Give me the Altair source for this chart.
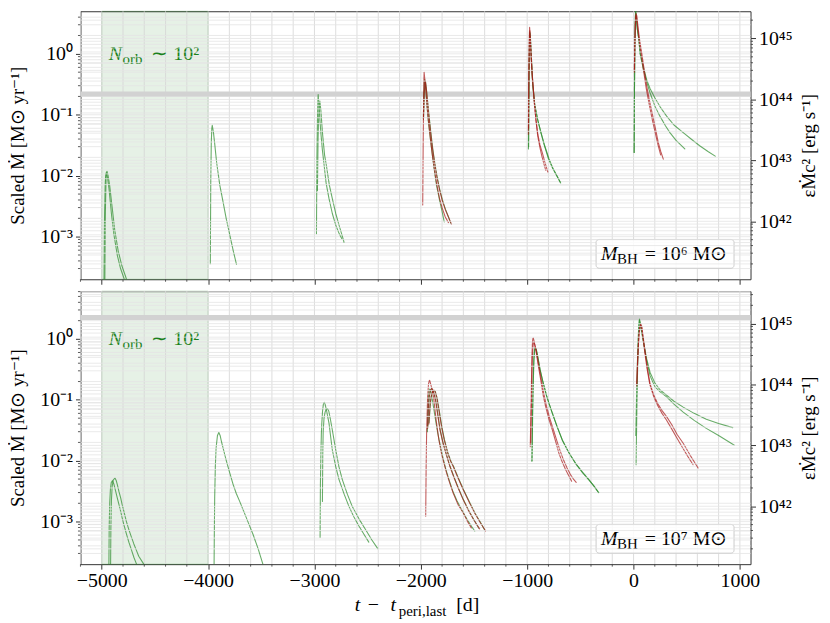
import altair as alt
import pandas as pd

# ---------------- constants ----------------
K = 5.6e44                      # eps * Mdot * c^2 per (Msun/yr)
XDOM = [-5200, 1100]
W = 675
H_TOP, H_BOT = 270, 275
YDOM_TOP = [2e-4, 5.0]
YDOM_BOT = [2e-4, 6.1]
EDD_TOP, EDD_BOT = 0.22, 2.25
SHADE = [-5000, -4000]

x_major = [-5000, -4000, -3000, -2000, -1000, 0, 1000]
x_grid = list(range(-5200, 1001, 200))
x_minor = [v for v in x_grid if v % 1000 != 0]
y_major = [1e-3, 1e-2, 1e-1, 1.0]
r_major = [1e42, 1e43, 1e44, 1e45]

# ---------------- M_BH = 1e6 (top) curves: t [d], Mdot [Msun/yr] ----------------
m6_a1_t = [-4980, -4975, -4968, -4962, -4958, -4948, -4932, -4907, -4885, -4854, -4823, -4792, -4770]
m6_a1_v = [1.0e-4, 1.5e-3, 7.0e-3, 0.0108, 0.0112, 0.0098, 0.0062, 0.0022, 1.07e-3, 5.0e-4, 3.0e-4, 2.1e-4, 1.5e-4]
m6_a2_t = [-4972, -4966, -4959, -4954, -4950, -4940, -4925, -4900, -4878, -4845, -4810, -4775, -4750]
m6_a2_v = [1.0e-4, 2.5e-3, 9.0e-3, 0.0115, 0.0118, 0.0100, 0.0068, 0.0028, 1.3e-3, 5.8e-4, 3.3e-4, 2.2e-4, 1.6e-4]
m6_b1_t = [-3979, -3975, -3970, -3965, -3961, -3950, -3939, -3920, -3890, -3859, -3830, -3796, -3765, -3733]
m6_b1_v = [3.6e-4, 8e-3, 0.035, 0.060, 0.067, 0.052, 0.035, 0.0166, 7.0e-3, 3.7e-3, 2.0e-3, 1.07e-3, 6.0e-4, 3.5e-4]
m6_c1_t = [-2981, -2977, -2972, -2968, -2965, -2958, -2950, -2940, -2925, -2909, -2890, -2863, -2832, -2800, -2770, -2744]
m6_c1_v = [1.12e-3, 0.02, 0.08, 0.17, 0.215, 0.15, 0.09, 0.051, 0.026, 0.0148, 7.5e-3, 4.2e-3, 2.4e-3, 1.55e-3, 1.15e-3, 9.3e-4]
m6_c2_t = [-2972, -2966, -2960, -2954, -2949, -2940, -2925, -2905, -2888, -2860, -2832, -2800, -2769, -2740, -2722]
m6_c2_v = [5.7e-3, 0.04, 0.10, 0.15, 0.168, 0.12, 0.051, 0.022, 0.0148, 7.0e-3, 4.2e-3, 2.4e-3, 1.55e-3, 1.05e-3, 8.1e-4]
m6_d_g1_t = [-1976, -1972, -1967, -1963, -1955, -1945, -1930, -1913, -1898, -1883, -1865, -1852, -1835, -1820, -1800, -1780]
m6_d_g1_v = [0.085, 0.2, 0.36, 0.38, 0.28, 0.16, 0.08, 0.045, 0.027, 0.0166, 0.0098, 6.9e-3, 5.0e-3, 3.7e-3, 2.6e-3, 1.75e-3]
m6_d_r1_t = [-1982, -1978, -1974, -1971, -1969, -1962, -1952, -1940, -1925, -1908, -1890, -1872, -1850, -1825, -1800, -1770, -1740]
m6_d_r1_v = [3.3e-3, 0.03, 0.15, 0.38, 0.50, 0.38, 0.24, 0.13, 0.07, 0.038, 0.021, 0.0125, 7.2e-3, 4.3e-3, 3.0e-3, 2.1e-3, 1.7e-3]
m6_d_r2_t = [-1975, -1968, -1961, -1957, -1950, -1940, -1925, -1908, -1890, -1870, -1850, -1825, -1800, -1770, -1740, -1712]
m6_d_r2_v = [0.085, 0.22, 0.33, 0.355, 0.29, 0.19, 0.10, 0.052, 0.028, 0.016, 9.8e-3, 6.0e-3, 4.0e-3, 2.8e-3, 2.1e-3, 1.6e-3]
m6_d_g2_t = [-1974, -1967, -1960, -1956, -1949, -1938, -1922, -1905, -1887, -1867, -1846, -1822, -1797, -1768, -1740, -1718]
m6_d_g2_v = [0.09, 0.23, 0.33, 0.35, 0.28, 0.18, 0.095, 0.05, 0.027, 0.0155, 9.5e-3, 5.9e-3, 4.0e-3, 2.8e-3, 2.1e-3, 1.65e-3]
m6_e_r1_t = [-989, -985, -981, -977, -972, -965, -955, -945, -932, -918, -900, -880, -858, -835, -806]
m6_e_r1_v = [0.048, 0.45, 1.7, 2.72, 1.9, 1.0, 0.5, 0.295, 0.15, 0.084, 0.048, 0.032, 0.024, 0.017, 0.0115]
m6_e_r2_t = [-987, -983, -979, -975, -969, -962, -952, -942, -930, -916, -900, -880, -862, -842, -825]
m6_e_r2_v = [0.06, 0.5, 1.6, 2.4, 1.7, 0.95, 0.45, 0.27, 0.14, 0.078, 0.044, 0.029, 0.021, 0.0155, 0.0122]
m6_e_g1_t = [-988, -984, -980, -976, -970, -962, -949, -930, -903, -870, -840, -800, -763, -725, -685]
m6_e_g1_v = [0.0275, 0.3, 1.2, 2.3, 1.8, 0.9, 0.32, 0.15, 0.085, 0.05, 0.032, 0.019, 0.0135, 0.0102, 7.6e-3]
m6_e_g2_t = [-986, -982, -978, -974, -968, -960, -947, -928, -900, -867, -835, -795, -758, -720, -690]
m6_e_g2_v = [0.03, 0.35, 1.3, 2.2, 1.7, 0.85, 0.31, 0.145, 0.082, 0.049, 0.031, 0.019, 0.0133, 0.0100, 7.9e-3]
m6_f_g1_t = [6, 9, 13, 16, 19, 25, 35, 47, 62, 93, 125, 155, 200, 248, 300, 342, 400, 482]
m6_f_g1_v = [0.024, 0.3, 1.5, 3.5, 5.3, 4.0, 2.6, 1.9, 1.0, 0.55, 0.34, 0.23, 0.14, 0.095, 0.066, 0.051, 0.038, 0.0275]
m6_f_g2_t = [6, 9, 13, 16, 20, 26, 36, 48, 64, 95, 125, 155, 200, 250, 311, 380, 467, 550, 622, 700, 768]
m6_f_g2_v = [0.024, 0.25, 1.3, 3.2, 5.0, 3.8, 2.5, 1.8, 1.0, 0.58, 0.37, 0.27, 0.19, 0.135, 0.095, 0.068, 0.051, 0.039, 0.031, 0.025, 0.021]
m6_f_r1_t = [8, 12, 17, 21, 24, 31, 40, 55, 77, 100, 124, 150, 187, 210, 233, 256, 280]
m6_f_r1_v = [0.55, 1.5, 3.0, 4.2, 4.6, 4.2, 3.0, 1.8, 1.03, 0.55, 0.295, 0.17, 0.085, 0.055, 0.035, 0.025, 0.0187]
m6_f_r2_t = [8, 12, 16, 20, 23, 30, 38, 52, 72, 95, 118, 145, 180, 205, 230, 255]
m6_f_r2_v = [0.5, 1.4, 2.8, 3.9, 4.3, 3.8, 2.8, 1.7, 0.98, 0.52, 0.28, 0.155, 0.078, 0.05, 0.032, 0.022]

# ---------------- M_BH = 1e7 (bottom) curves ----------------
m7_a1_t = [-4934, -4930, -4925, -4918, -4910, -4900, -4885, -4870, -4854, -4838, -4822, -4808, -4792, -4768, -4745, -4720, -4698, -4673, -4660]
m7_a1_v = [1.0e-4, 8.0e-4, 2.0e-3, 3.5e-3, 4.4e-3, 4.7e-3, 4.1e-3, 3.2e-3, 2.45e-3, 1.9e-3, 1.48e-3, 1.15e-3, 8.9e-4, 6.3e-4, 4.6e-4, 3.4e-4, 2.6e-4, 2.0e-4, 1.7e-4]
m7_a2_t = [-4918, -4914, -4909, -4902, -4892, -4876, -4865, -4854, -4838, -4822, -4808, -4792, -4768, -4745, -4720, -4698, -4675, -4652, -4605, -4590]
m7_a2_v = [1.0e-4, 8e-4, 2.2e-3, 3.8e-3, 4.8e-3, 5.2e-3, 4.8e-3, 4.1e-3, 3.1e-3, 2.45e-3, 1.9e-3, 1.48e-3, 1.0e-3, 7.4e-4, 5.5e-4, 4.3e-4, 3.4e-4, 2.7e-4, 2.0e-4, 1.8e-4]
m7_b1_t = [-3945, -3942, -3938, -3932, -3925, -3912, -3899, -3887, -3874, -3850, -3827, -3795, -3765, -3735, -3703, -3670, -3640, -3610, -3578, -3530, -3485, -3470]
m7_b1_v = [1.0e-4, 5e-4, 2.5e-3, 8e-3, 0.016, 0.026, 0.029, 0.026, 0.0205, 0.0140, 9.8e-3, 6.2e-3, 4.1e-3, 2.9e-3, 2.15e-3, 1.55e-3, 1.15e-3, 8.5e-4, 6.2e-4, 3.6e-4, 2.0e-4, 1.7e-4]
m7_c1_t = [-2947, -2944, -2940, -2935, -2931, -2924, -2916, -2909, -2900, -2885, -2863, -2848, -2832, -2800, -2769, -2720, -2676, -2630, -2582, -2535, -2489]
m7_c1_v = [5.5e-4, 4e-3, 0.012, 0.028, 0.041, 0.065, 0.085, 0.091, 0.085, 0.065, 0.041, 0.025, 0.0151, 8e-3, 4.9e-3, 2.8e-3, 1.78e-3, 1.2e-3, 8.5e-4, 6.2e-4, 4.6e-4]
m7_c2_t = [-2925, -2922, -2918, -2910, -2900, -2890, -2878, -2865, -2850, -2832, -2800, -2770, -2738, -2690, -2645, -2580, -2520, -2460, -2405]
m7_c2_v = [2.15e-3, 0.012, 0.03, 0.05, 0.063, 0.07, 0.072, 0.065, 0.048, 0.032, 0.0151, 8.0e-3, 4.9e-3, 2.8e-3, 1.78e-3, 1.1e-3, 7.4e-4, 5.0e-4, 3.6e-4]
m7_d_r1_t = [-1954, -1950, -1945, -1936, -1928, -1921, -1917, -1910, -1895, -1880, -1852, -1830, -1805, -1780, -1758, -1730, -1696, -1650, -1602, -1560, -1525]
m7_d_r1_v = [1.23e-3, 0.008, 0.032, 0.11, 0.18, 0.205, 0.209, 0.19, 0.15, 0.11, 0.041, 0.022, 0.013, 8.8e-3, 6.3e-3, 4.4e-3, 2.95e-3, 1.9e-3, 1.4e-3, 1.0e-3, 7.9e-4]
m7_d_g1_t = [-1938, -1934, -1930, -1925, -1918, -1912, -1905, -1895, -1880, -1860, -1840, -1815, -1790, -1765, -1735, -1700, -1660, -1610, -1560, -1520, -1493]
m7_d_g1_v = [0.03, 0.06, 0.1, 0.135, 0.15, 0.148, 0.135, 0.11, 0.075, 0.045, 0.028, 0.017, 0.0108, 7.3e-3, 4.9e-3, 3.2e-3, 2.2e-3, 1.5e-3, 1.05e-3, 8.2e-4, 7.0e-4]
m7_d_r2_t = [-1936, -1930, -1922, -1912, -1904, -1898, -1890, -1875, -1860, -1840, -1820, -1790, -1760, -1727, -1690, -1650, -1602, -1550, -1500, -1447]
m7_d_r2_v = [0.034, 0.07, 0.11, 0.14, 0.15, 0.153, 0.148, 0.125, 0.095, 0.055, 0.032, 0.019, 0.0125, 8.1e-3, 5.4e-3, 3.6e-3, 2.3e-3, 1.5e-3, 1.05e-3, 7.6e-4]
m7_d_g2_t = [-1934, -1928, -1920, -1910, -1902, -1896, -1888, -1873, -1858, -1838, -1818, -1788, -1758, -1725, -1688, -1648, -1600, -1548, -1498, -1455]
m7_d_g2_v = [0.036, 0.072, 0.112, 0.142, 0.15, 0.152, 0.146, 0.123, 0.094, 0.055, 0.032, 0.019, 0.0125, 8.1e-3, 5.4e-3, 3.6e-3, 2.3e-3, 1.5e-3, 1.05e-3, 7.8e-4]
m7_d_r3_t = [-1925, -1915, -1905, -1895, -1885, -1876, -1866, -1850, -1830, -1805, -1780, -1750, -1720, -1696, -1650, -1600, -1540, -1490, -1440, -1391]
m7_d_r3_v = [0.04, 0.075, 0.11, 0.13, 0.14, 0.144, 0.138, 0.11, 0.068, 0.036, 0.022, 0.0138, 0.0098, 8.1e-3, 5.2e-3, 3.3e-3, 2.0e-3, 1.35e-3, 9.6e-4, 7.0e-4]
m7_d_g3_t = [-1922, -1912, -1902, -1892, -1882, -1873, -1863, -1847, -1827, -1802, -1777, -1747, -1717, -1693, -1647, -1597, -1537, -1487, -1437, -1398]
m7_d_g3_v = [0.042, 0.078, 0.112, 0.13, 0.14, 0.142, 0.136, 0.108, 0.067, 0.036, 0.022, 0.0138, 0.0098, 8.1e-3, 5.2e-3, 3.3e-3, 2.0e-3, 1.35e-3, 9.6e-4, 7.2e-4]
m7_e_r1_t = [-971, -966, -962, -956, -950, -946, -943, -935, -918, -895, -872, -850, -825, -795, -763, -730, -700, -670, -638, -610, -582]
m7_e_r1_v = [0.017, 0.05, 0.11, 0.5, 0.9, 1.02, 1.04, 0.92, 0.65, 0.36, 0.21, 0.12, 0.076, 0.048, 0.032, 0.02, 0.013, 9.5e-3, 7.1e-3, 5.7e-3, 4.6e-3]
m7_e_r2_t = [-966, -960, -955, -950, -944, -938, -930, -912, -890, -866, -843, -818, -788, -755, -720, -690, -660, -625, -590, -565, -539]
m7_e_r2_v = [0.02, 0.08, 0.25, 0.55, 0.8, 0.88, 0.82, 0.6, 0.36, 0.21, 0.125, 0.078, 0.05, 0.033, 0.021, 0.0145, 0.0105, 7.6e-3, 5.8e-3, 5.0e-3, 4.4e-3]
m7_e_g1_t = [-956, -950, -944, -938, -932, -928, -924, -915, -900, -880, -856, -820, -790, -763, -720, -670, -610, -545, -480, -420, -370, -327]
m7_e_g1_v = [9.8e-3, 0.06, 0.2, 0.45, 0.65, 0.72, 0.73, 0.67, 0.5, 0.32, 0.21, 0.12, 0.082, 0.060, 0.037, 0.022, 0.0138, 9.1e-3, 6.5e-3, 4.9e-3, 3.8e-3, 3.0e-3]
m7_e_g2_t = [-954, -948, -942, -936, -930, -926, -922, -913, -898, -878, -854, -818, -788, -761, -718, -668, -608, -543, -478, -418, -368, -335]
m7_e_g2_v = [0.01, 0.065, 0.21, 0.46, 0.65, 0.71, 0.72, 0.66, 0.49, 0.31, 0.205, 0.118, 0.081, 0.059, 0.036, 0.0215, 0.0135, 8.9e-3, 6.3e-3, 4.8e-3, 3.75e-3, 3.1e-3]
m7_f_g1_t = [24, 30, 38, 46, 52, 56, 62, 72, 93, 120, 155, 200, 250, 311, 380, 467, 570, 684, 800, 933]
m7_f_g1_v = [8.6e-3, 0.05, 0.3, 1.0, 1.7, 2.12, 1.9, 1.5, 0.94, 0.5, 0.285, 0.19, 0.145, 0.119, 0.095, 0.076, 0.06, 0.048, 0.041, 0.035]
m7_f_g2_t = [21, 28, 36, 44, 50, 55, 61, 71, 92, 120, 155, 200, 250, 311, 380, 467, 570, 684, 800, 948]
m7_f_g2_v = [0.026, 0.1, 0.4, 1.1, 1.7, 2.05, 1.85, 1.45, 0.9, 0.47, 0.25, 0.165, 0.135, 0.112, 0.085, 0.063, 0.046, 0.034, 0.026, 0.018]
m7_f_r1_t = [31, 38, 45, 52, 60, 68, 78, 90, 108, 130, 155, 190, 230, 270, 311, 360, 410, 467, 530, 607]
m7_f_r1_v = [0.185, 0.4, 0.75, 1.2, 1.6, 1.76, 1.6, 1.1, 0.645, 0.33, 0.185, 0.12, 0.085, 0.066, 0.053, 0.039, 0.027, 0.0194, 0.0125, 7.6e-3]
m7_f_r2_t = [30, 37, 44, 51, 59, 66, 76, 88, 105, 128, 153, 188, 228, 268, 308, 356, 405, 460, 510, 560]
m7_f_r2_v = [0.17, 0.38, 0.72, 1.15, 1.55, 1.7, 1.55, 1.07, 0.62, 0.32, 0.18, 0.115, 0.08, 0.06, 0.047, 0.034, 0.024, 0.0165, 0.0118, 8.6e-3]

curves = [
    ("M6", "g", m6_a1_t, m6_a1_v), ("M6", "g", m6_a2_t, m6_a2_v),
    ("M6", "g", m6_b1_t, m6_b1_v),
    ("M6", "g", m6_c1_t, m6_c1_v), ("M6", "g", m6_c2_t, m6_c2_v),
    ("M6", "g", m6_d_g1_t, m6_d_g1_v), ("M6", "g", m6_d_g2_t, m6_d_g2_v),
    ("M6", "r", m6_d_r1_t, m6_d_r1_v), ("M6", "r", m6_d_r2_t, m6_d_r2_v),
    ("M6", "g", m6_e_g1_t, m6_e_g1_v), ("M6", "g", m6_e_g2_t, m6_e_g2_v),
    ("M6", "r", m6_e_r1_t, m6_e_r1_v), ("M6", "r", m6_e_r2_t, m6_e_r2_v),
    ("M6", "g", m6_f_g1_t, m6_f_g1_v), ("M6", "g", m6_f_g2_t, m6_f_g2_v),
    ("M6", "r", m6_f_r1_t, m6_f_r1_v), ("M6", "r", m6_f_r2_t, m6_f_r2_v),
    ("M7", "g", m7_a1_t, m7_a1_v), ("M7", "g", m7_a2_t, m7_a2_v),
    ("M7", "g", m7_b1_t, m7_b1_v),
    ("M7", "g", m7_c1_t, m7_c1_v), ("M7", "g", m7_c2_t, m7_c2_v),
    ("M7", "g", m7_d_g1_t, m7_d_g1_v), ("M7", "g", m7_d_g2_t, m7_d_g2_v), ("M7", "g", m7_d_g3_t, m7_d_g3_v),
    ("M7", "r", m7_d_r1_t, m7_d_r1_v), ("M7", "r", m7_d_r2_t, m7_d_r2_v), ("M7", "r", m7_d_r3_t, m7_d_r3_v),
    ("M7", "g", m7_e_g1_t, m7_e_g1_v), ("M7", "g", m7_e_g2_t, m7_e_g2_v),
    ("M7", "r", m7_e_r1_t, m7_e_r1_v), ("M7", "r", m7_e_r2_t, m7_e_r2_v),
    ("M7", "g", m7_f_g1_t, m7_f_g1_v), ("M7", "g", m7_f_g2_t, m7_f_g2_v),
    ("M7", "r", m7_f_r1_t, m7_f_r1_v), ("M7", "r", m7_f_r2_t, m7_f_r2_v),
]

rows = []
for i, (pan, kind, ts, vs) in enumerate(curves):
    for t, v in zip(ts, vs):
        rows.append({"panel": pan, "kind": kind, "id": i, "t": t, "v": v})
df = pd.DataFrame(rows)

# ---------------- styling ----------------
FONT = "Liberation Serif"
INK = "#333333"
GREEN = "#2a8a2a"
RED = "#a81818"
GRID_MAJ = "#d4d4d4"
GRID_MIN = "#e4e4e4"

LEFT_LABELS = ("datum.value >= 0.5 ? '10\u2070' : datum.value >= 0.05 ? '10\u207b\u00b9' : "
               "datum.value >= 0.005 ? '10\u207b\u00b2' : '10\u207b\u00b3'")
RIGHT_LABELS = ("datum.value >= 5e44 ? '10\u2074\u2075' : datum.value >= 5e43 ? '10\u2074\u2074' : "
                "datum.value >= 5e42 ? '10\u2074\u00b3' : '10\u2074\u00b2'")


def minors(lo, hi):
    out = []
    for e in range(-5, 1):
        for m in range(2, 10):
            val = m * 10.0 ** e
            if lo * 1.01 < val < hi * 0.99:
                out.append(val)
    return out


def panel(name, height, ydom, edd, exp_char, show_x):
    xs = alt.Scale(domain=XDOM, nice=False, zero=False)
    ys = alt.Scale(type="log", domain=ydom, nice=False)
    ysr = alt.Scale(type="log", domain=[ydom[0] * K, ydom[1] * K], nice=False)
    xax = alt.Axis(values=x_major, format="d", labels=show_x, title=None, grid=False,
                   domain=False, tickSize=5, tickColor=INK, labelPadding=2)
    yax = alt.Axis(orient="left", values=y_major, labelExpr=LEFT_LABELS,
                   title="Scaled M\u0307 [M\u2299 yr\u207b\u00b9]", grid=False, domain=False,
                   tickSize=5, tickColor=INK, labelPadding=3, titlePadding=12)
    yaxr = alt.Axis(orient="right", values=r_major, labelExpr=RIGHT_LABELS,
                    title="\u03b5M\u0307c\u00b2 [erg s\u207b\u00b9]", titleAngle=270,
                    titleBaseline="top", grid=False, domain=False, tickSize=5, tickColor=INK,
                    labelPadding=3, titlePadding=8)

    def X(f):
        return alt.X(f, type="quantitative", scale=xs, axis=xax)

    def Y(f):
        return alt.Y(f, type="quantitative", scale=ys, axis=yax)

    def YR(f):
        return alt.Y(f, type="quantitative", scale=ysr, axis=yaxr)

    shade = alt.Chart(pd.DataFrame({"t0": [SHADE[0]], "t1": [SHADE[1]]})).mark_rect(
        fill="#1a801a", fillOpacity=0.11, stroke="#1a801a", strokeOpacity=0.25, strokeWidth=1
    ).encode(x=X("t0"), x2="t1", y=alt.value(0), y2=alt.value(height))

    vgrid = alt.Chart(pd.DataFrame({"t": x_grid})).mark_rule(
        color=GRID_MAJ, strokeWidth=0.8).encode(x=X("t"))

    ylines = y_major + minors(ydom[0], ydom[1])
    hgrid = alt.Chart(pd.DataFrame({"v": ylines})).mark_rule(
        color=GRID_MIN, strokeWidth=0.8).encode(y=Y("v"))

    band = alt.Chart(pd.DataFrame({"v": [edd]})).mark_rule(
        color="#d2d2d2", strokeWidth=5).encode(y=Y("v"))

    lines = alt.Chart(df[df.panel == name]).mark_line(
        strokeWidth=1.1, opacity=0.7, clip=True, strokeJoin="round", strokeCap="round"
    ).encode(
        x=X("t"), y=Y("v"),
        color=alt.Color("kind:N", scale=alt.Scale(domain=["g", "r"], range=[GREEN, RED]), legend=None),
        detail="id:N",
    )

    xmin_ticks = alt.Chart(pd.DataFrame({"t": x_minor})).mark_rule(
        color=INK, strokeWidth=0.8).encode(x=X("t"), y=alt.value(height), y2=alt.value(height + 2.5))
    ymin_ticks = alt.Chart(pd.DataFrame({"v": minors(ydom[0], ydom[1])})).mark_rule(
        color=INK, strokeWidth=0.8).encode(y=Y("v"), x=alt.value(0), x2=alt.value(-2.5))

    box = alt.Chart(pd.DataFrame({"a": [-352], "b": [945], "lo": [3.03e-4], "hi": [9.0e-4]})).mark_rect(
        fill="white", fillOpacity=0.85, stroke="#cccccc", strokeWidth=1, cornerRadius=3
    ).encode(x=X("a"), x2="b", y=Y("lo"), y2="hi")

    def txt(t, v, s, size, style="normal", color="black", dx=0, dy=0):
        return alt.Chart(pd.DataFrame({"t": [t], "v": [v]})).mark_text(
            text=s, font=FONT, fontSize=size, fontStyle=style, color=color,
            align="left", baseline="alphabetic", dx=dx, dy=dy
        ).encode(x=X("t"), y=Y("v"))

    texts = [
        txt(-4935, 0.785, "N", 20, "italic", "#1a801a"),
        txt(-4935, 0.785, "orb", 15, "normal", "#1a801a", dx=14, dy=4),
        txt(-4935, 0.785, "\u223c 10\u00b2", 20, "normal", "#1a801a", dx=43),
        txt(-305, 4.07e-4, "M", 20, "italic"),
        txt(-305, 4.07e-4, "BH", 15, "normal", dx=16, dy=4),
        txt(-305, 4.07e-4, "= 10" + exp_char + " M\u2299", 20, "normal", dx=44),
    ]

    layers = [shade, vgrid, hgrid, band, lines, xmin_ticks, ymin_ticks, box] + texts

    if show_x:
        def xt(t, s, size, style="normal", dy=0):
            return alt.Chart(pd.DataFrame({"t": [t]})).mark_text(
                text=s, font=FONT, fontSize=size, fontStyle=style, color="black",
                align="left", baseline="alphabetic", dy=dy
            ).encode(x=X("t"), y=alt.value(height + 47))
        layers += [
            xt(-2620, "t", 20, "italic"),
            xt(-2499, "\u2212", 20),
            xt(-2284, "t", 20, "italic"),
            xt(-2207, "peri,last", 15, dy=5),
            xt(-1668, "[d]", 20),
        ]

    left = alt.layer(*layers)

    rminor = minors(ydom[0] * K / 1e45, ydom[1] * K / 1e45)
    rgrid = alt.Chart(pd.DataFrame({"e": [v * 1e45 for v in rminor] + r_major})).mark_rule(
        color=GRID_MIN, strokeWidth=0.8).encode(y=YR("e"))
    rticks = alt.Chart(pd.DataFrame({"e": [v * 1e45 for v in rminor]})).mark_rule(
        color=INK, strokeWidth=0.8).encode(y=YR("e"), x=alt.value(W), x2=alt.value(W + 2.5))
    right = alt.layer(rgrid, rticks)

    return alt.layer(left, right).resolve_scale(y="independent").properties(width=W, height=height)


top = panel("M6", H_TOP, YDOM_TOP, EDD_TOP, "\u2076", False)
bot = panel("M7", H_BOT, YDOM_BOT, EDD_BOT, "\u2077", True)

chart = alt.vconcat(top, bot, spacing=5).properties(
    padding={"left": 0, "top": 0, "right": 2, "bottom": 0}
).configure_view(
    stroke=INK, strokeWidth=1
).configure_axis(
    labelFont=FONT, titleFont=FONT, labelFontSize=20, titleFontSize=19,
    labelColor="black", titleColor="black", titleFontWeight="normal"
)

chart.save("out.html", embed_options={"renderer": "svg", "actions": False})
